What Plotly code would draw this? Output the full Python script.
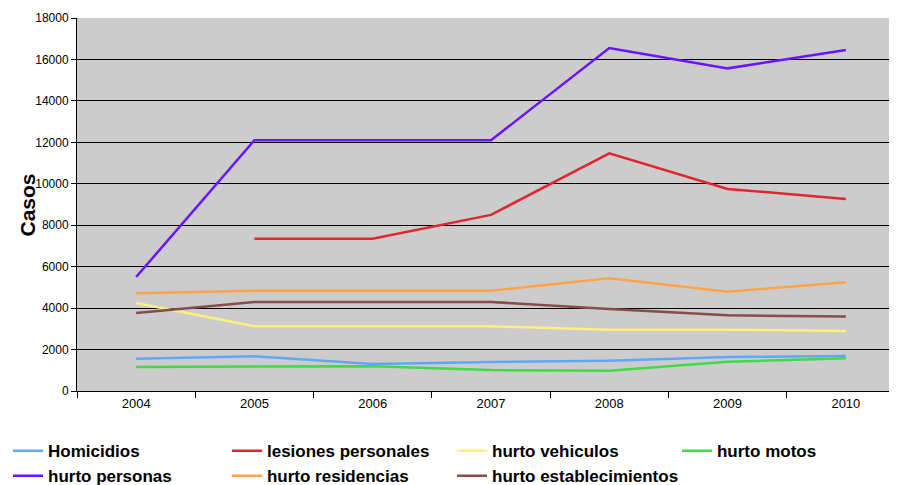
import plotly.graph_objects as go

years = [2004, 2005, 2006, 2007, 2008, 2009, 2010]

homicidios = [1560, 1675, 1300, 1400, 1460, 1640, 1690]
lesiones_personales = [None, 7350, 7350, 8500, 11470, 9750, 9270]
hurto_vehiculos = [4250, 3120, 3120, 3120, 2960, 2960, 2895]
hurto_motos = [1160, 1190, 1200, 1010, 980, 1415, 1580]
hurto_personas = [5500, 12100, 12100, 12100, 16550, 15570, 16460]
hurto_residencias = [4715, 4840, 4840, 4840, 5440, 4790, 5245]
hurto_establecimientos = [3765, 4295, 4295, 4295, 3957, 3650, 3600]

# name, values, colour, legend column
series = [
    ("Homicidios", homicidios, "#5FA8F8", "legend"),
    ("lesiones personales", lesiones_personales, "#E0262E", "legend2"),
    ("hurto vehiculos", hurto_vehiculos, "#FFEE80", "legend3"),
    ("hurto motos", hurto_motos, "#3FDB45", "legend4"),
    ("hurto personas", hurto_personas, "#6A14FF", "legend"),
    ("hurto residencias", hurto_residencias, "#FFA447", "legend2"),
    ("hurto establecimientos", hurto_establecimientos, "#8A4B4B", "legend3"),
]

fig = go.Figure()
for name, vals, color, leg in series:
    fig.add_trace(go.Scatter(
        x=years, y=vals, name=name, mode="lines",
        line=dict(color=color, width=2.5), legend=leg,
    ))

legend_font = dict(size=17, family="Liberation Sans, Arial, sans-serif", weight="bold")


def legend_col(x):
    return dict(
        orientation="v", xref="container", yref="container",
        x=x, y=0.1234, xanchor="left", yanchor="top",
        font=legend_font, itemwidth=30, tracegroupgap=0,
        bgcolor="rgba(0,0,0,0)",
    )


# the page body adds an 8px offset, so margins are trimmed to match
fig.update_layout(
    width=897, height=485,
    margin=dict(l=69, r=0, t=10, b=102, autoexpand=False),
    paper_bgcolor="white",
    plot_bgcolor="#CCCCCC",
    font=dict(family="Liberation Sans, Arial, sans-serif", color="black"),
    showlegend=True,
    legend=legend_col(0.0),
    legend2=legend_col(0.2441),
    legend3=legend_col(0.4950),
    legend4=legend_col(0.7458),
)

fig.add_annotation(
    text="<b>Casos</b>", textangle=-90,
    xref="paper", yref="paper", x=-0.0592, y=0.5,
    xanchor="center", yanchor="middle", showarrow=False,
    font=dict(size=21, color="black"),
)

fig.update_xaxes(
    range=[2003.5, 2010.5],
    tickmode="array", tickvals=years, ticktext=[str(y) for y in years],
    ticks="", showgrid=False, zeroline=False, automargin=False,
    showline=True, linecolor="black", linewidth=1,
    tickfont=dict(size=13),
    minor=dict(tick0=2003.5, dtick=1, ticks="outside", ticklen=6, tickcolor="black", showgrid=False),
)
fig.update_yaxes(
    range=[0, 18000], dtick=2000, tickformat="d",
    showgrid=True, gridcolor="black", gridwidth=1,
    zeroline=False, automargin=False,
    showline=True, linecolor="black", linewidth=1,
    ticks="outside", ticklen=5, tickcolor="black",
    tickfont=dict(size=12),
)

fig.write_html("out.html")
